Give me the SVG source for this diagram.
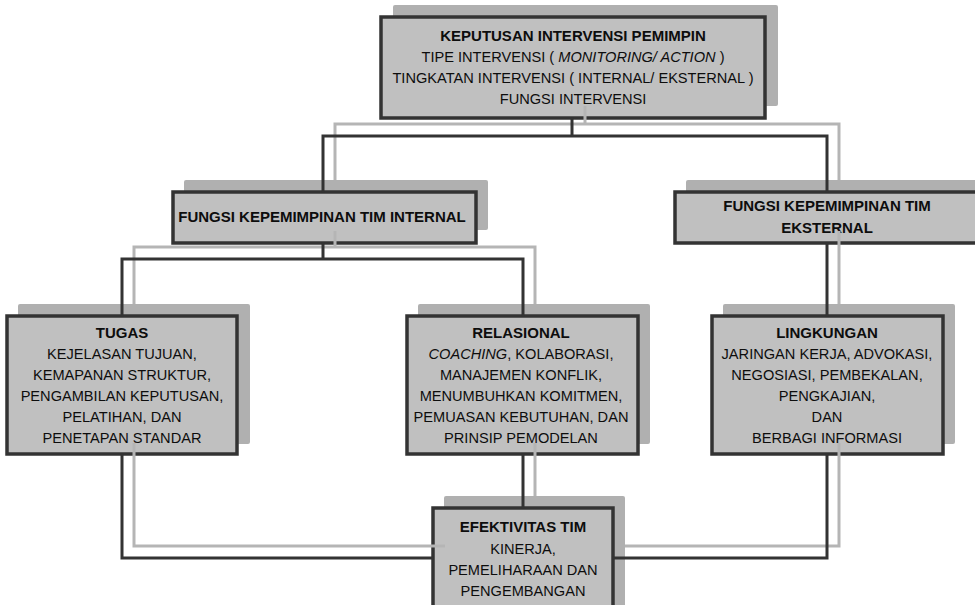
<svg xmlns="http://www.w3.org/2000/svg" width="975" height="605" viewBox="0 0 975 605">
<style>
.bg{fill:#ffffff}
.sh{fill:#b0b0b0}
.bx{fill:#c0c0c0;stroke:#333333;stroke-width:3.5}
.t{font-family:"Liberation Sans",Arial,sans-serif;font-size:14.6px;fill:#0d0d0d;text-anchor:middle}
.b{font-weight:bold;font-size:15px}
.i{font-style:italic}
.k{fill:none;stroke:#333333;stroke-width:3;stroke-linejoin:miter;stroke-linecap:square}
.g{fill:none;stroke:#b5b5b5;stroke-width:3;stroke-linejoin:miter;stroke-linecap:butt}
</style>
<rect class="bg" x="0" y="0" width="975" height="605"/>

<g id="node-keputusan">
<rect class="sh" x="393" y="5" width="385" height="101" rx="2"/>
<rect class="bx" x="381" y="17" width="384" height="101"/>
<text class="t b" x="573" y="41">KEPUTUSAN INTERVENSI PEMIMPIN</text>
<text class="t" x="573" y="62">TIPE INTERVENSI ( <tspan class="i">MONITORING/ ACTION</tspan> )</text>
<text class="t" x="573" y="83">TINGKATAN INTERVENSI ( INTERNAL/ EKSTERNAL )</text>
<text class="t" x="573" y="104">FUNGSI INTERVENSI</text>
</g>

<g id="node-internal">
<rect class="sh" x="184" y="180" width="304" height="50" rx="2"/>
<rect class="bx" x="173" y="192" width="303" height="51"/>
<text class="t b" x="322" y="222">FUNGSI KEPEMIMPINAN TIM INTERNAL</text>
</g>

<g id="node-eksternal">
<rect class="sh" x="686" y="180" width="304" height="51" rx="2"/>
<rect class="bx" x="675" y="192" width="304" height="51"/>
<text class="t b" x="827" y="211">FUNGSI KEPEMIMPINAN TIM</text>
<text class="t b" x="827" y="233">EKSTERNAL</text>
</g>

<g id="node-tugas">
<rect class="sh" x="18" y="304" width="232" height="140" rx="2"/>
<rect class="bx" x="7" y="316" width="230" height="138"/>
<text class="t b" x="122" y="338">TUGAS</text>
<text class="t" x="122" y="359">KEJELASAN TUJUAN,</text>
<text class="t" x="122" y="380">KEMAPANAN STRUKTUR,</text>
<text class="t" x="122" y="401">PENGAMBILAN KEPUTUSAN,</text>
<text class="t" x="122" y="422">PELATIHAN, DAN</text>
<text class="t" x="122" y="443">PENETAPAN STANDAR</text>
</g>

<g id="node-relasional">
<rect class="sh" x="418" y="304" width="232" height="140" rx="2"/>
<rect class="bx" x="407" y="316" width="231" height="138"/>
<text class="t b" x="521" y="338">RELASIONAL</text>
<text class="t" x="521" y="359"><tspan class="i">COACHING</tspan>, KOLABORASI,</text>
<text class="t" x="521" y="380">MANAJEMEN KONFLIK,</text>
<text class="t" x="521" y="401">MENUMBUHKAN KOMITMEN,</text>
<text class="t" x="521" y="422">PEMUASAN KEBUTUHAN, DAN</text>
<text class="t" x="521" y="443">PRINSIP PEMODELAN</text>
</g>

<g id="node-lingkungan">
<rect class="sh" x="723" y="304" width="232" height="140" rx="2"/>
<rect class="bx" x="712" y="316" width="231" height="138"/>
<text class="t b" x="827" y="338">LINGKUNGAN</text>
<text class="t" x="827" y="359">JARINGAN KERJA, ADVOKASI,</text>
<text class="t" x="827" y="380">NEGOSIASI, PEMBEKALAN,</text>
<text class="t" x="827" y="401">PENGKAJIAN,</text>
<text class="t" x="827" y="422">DAN</text>
<text class="t" x="827" y="443">BERBAGI INFORMASI</text>
</g>

<g id="node-efektivitas">
<rect class="sh" x="444" y="496" width="181" height="115" rx="2"/>
<rect class="bx" x="433" y="508" width="180" height="110"/>
<text class="t b" x="523" y="532">EFEKTIVITAS TIM</text>
<text class="t" x="523" y="554">KINERJA,</text>
<text class="t" x="523" y="575">PEMELIHARAAN DAN</text>
<text class="t" x="523" y="596">PENGEMBANGAN</text>
</g>

<g id="connectors">
<path class="g" d="M585 106V124M335 180V124H839V180"/>
<path class="g" d="M335 231V247M134 304V247H535V304"/>
<path class="g" d="M839 231V304"/>
<path class="g" d="M134 443V546H445"/>
<path class="g" d="M535 443V496"/>
<path class="g" d="M839 443V546H625"/>
<path class="k" d="M572 119V136M323 191V136H827V191"/>
<path class="k" d="M323 244V259M122 315V259H523V315"/>
<path class="k" d="M827 244V315"/>
<path class="k" d="M122 455V558H432"/>
<path class="k" d="M523 455V507"/>
<path class="k" d="M827 455V558H614"/>
</g>
</svg>
